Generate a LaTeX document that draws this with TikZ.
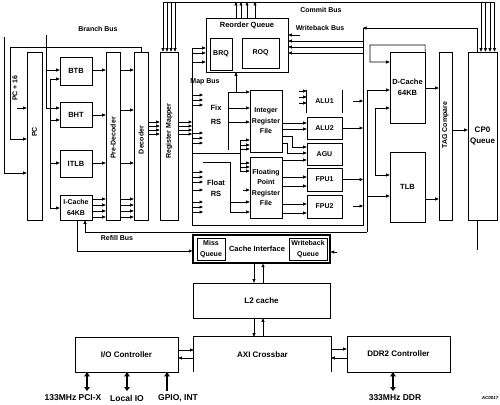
\documentclass[tikz,border=0pt]{standalone}
\usepackage{fontspec}
\setmainfont{Liberation Sans}
\usetikzlibrary{arrows.meta}
\newcommand\lbl{\fontsize{7}{10.5}\selectfont\bfseries}
\newcommand\lblbig{\fontsize{8}{10.5}\selectfont\bfseries}
\newcommand\lblmid{\fontsize{7.5}{10.5}\selectfont\bfseries}
\newcommand\mkbox[7][]{\node[box,#1,minimum width={(#4-#2)*1pt},minimum height={(#5-#3)*1pt}] (#6) at ({(#2+#4)/2},{(#3+#5)/2}) {#7};}
\newcommand\harrow[3]{\draw[arr] (#1 |- 0,#3) -- (#2 |- 0,#3);}
\begin{document}
\begin{tikzpicture}[x=1pt,y=-1pt,
  box/.style={draw, line width=0.6pt, inner sep=0pt, font=\lbl, align=center},
  ln/.style={line width=0.6pt},
  arr/.style={line width=0.6pt, -{Triangle[length=3.5pt,width=3pt]}},
  tag/.style={font=\lbl, inner sep=0pt, align=center},
  big/.style={line width=2.2pt, {Triangle[length=4pt,width=5.5pt]}-{Triangle[length=4pt,width=5.5pt]}},
  bigup/.style={line width=2.2pt, -{Triangle[length=4pt,width=5.5pt]}},
  btag/.style={font=\fontsize{8.5}{9}\selectfont\bfseries, inner sep=0pt}]
\useasboundingbox (0,0) rectangle (500,404);
\fill[white] (0,0) rectangle (500,404);

% ---------- boxes ----------
\mkbox{27}{52}{42}{220}{pc}{}
\mkbox[font=\lblmid]{60}{57}{92}{85}{btb}{BTB}
\mkbox[font=\lblmid]{60}{102}{92}{127}{bht}{BHT}
\mkbox[font=\lblmid]{60}{150}{92}{177}{itlb}{ITLB}
\mkbox{60}{195}{92}{220}{icache}{I-Cache\\64KB}
\mkbox{106}{52}{120}{220}{pred}{}
\mkbox{134}{52}{148}{220}{dec}{}
\mkbox{160}{52}{178}{220}{map}{}
\mkbox{206}{18}{288}{72}{roq}{}
\mkbox{210}{38}{232}{70}{brq}{BRQ}
\mkbox{242}{38}{279}{68}{rob}{ROQ}
\mkbox{250}{90}{282}{152}{irf}{Integer\\Register\\File}
\mkbox{250}{157}{282}{218}{frf}{Floating\\Point\\Register\\File}
\mkbox[draw=none]{307}{90}{342}{113}{alu1}{ALU1}
\draw[ln] (alu1.north west) -- (alu1.south west);
\draw[ln] (alu1.north east) -- (alu1.south east);
\mkbox{307}{117}{342}{139}{alu2}{ALU2}
\mkbox{307}{143}{342}{165}{agu}{AGU}
\mkbox{307}{168}{342}{191}{fpu1}{FPU1}
\mkbox{307}{195}{342}{218}{fpu2}{FPU2}
\mkbox[font=\lblmid]{390}{52}{425}{123}{dc}{D-Cache\\64KB}
\mkbox{439}{52}{452}{220}{tagc}{}
\mkbox[font=\lblmid]{390}{152}{425}{222}{tlb}{TLB}
\mkbox[font=\lblbig]{468}{52}{497}{220}{cp0}{CP0\\Queue}
\mkbox[line width=1.3pt]{193}{235}{330}{263}{cif}{}
\mkbox{197}{238}{225}{260}{missq}{Miss\\Queue}
\mkbox{289}{238}{327}{260}{wbq}{Writeback\\Queue}
\mkbox[font=\lblbig]{193}{283}{330}{318}{l2}{L2 cache}
\mkbox[draw=none,font=\lblbig]{194}{337}{331}{372}{axi}{AXI Crossbar}
\draw[ln] (axi.south west) -- (axi.north west) -- (axi.north east) -- (axi.south east);
\mkbox[font=\lblbig]{75}{337}{178}{372}{io}{I/O Controller}
\mkbox[font=\lblbig]{347}{336}{450}{372}{ddr}{DDR2 Controller}

% ---------- labels ----------
\node[tag,rotate=90] (pcl) at (pc.center |- 0,132) {PC};
\node[tag,rotate=90] (predl) at (pred.center |- 0,138) {Pre-Decoder};
\node[tag,rotate=90] (decl) at (dec.center |- 0,140) {Decoder};
\node[tag,rotate=90] (mapl) at (map.center |- 0,131) {Register Mapper};
\node[tag,rotate=90] (tagl) at (tagc.center |- 0,125) {TAG Compare};
\node[tag,rotate=90] (pc16) at (15,88) {PC + 16};
\node[tag] (lbb) at (98,29) {Branch Bus};
\node[tag] (lcb) at (321,10) {Commit Bus};
\node[tag] (lwb) at (320,28) {Writeback Bus};
\node[tag] (lmb) at (205,82) {Map Bus};
\node[tag] (lrb) at (117,238) {Refill Bus};
\node[tag,font=\lblmid] (rqt) at (247,26) {Reorder Queue};
\node[tag,font=\lblmid] (fixrs) at (216,115) {Fix\\[3pt]RS};
\node[tag,font=\lblmid] (flors) at (216,188.5) {Float\\RS};
\node[tag,font=\lblmid] (cifl) at (257,249) {Cache Interface};

% ---------- front end ----------
\coordinate (o1) at (4,37);
\draw[arr] (o1) |- (pc.west |- 0,173);
\coordinate (i1) at (10,47);
\draw[arr] (dec.north) |- (i1) |- (pc.west |- 0,139);
\coordinate (p16) at (17,108);
\draw[arr] (p16) -- (pc.west |- p16);
\coordinate (bb) at (46,35);
\draw[arr] (bb) |- (bht.west |- 0,108);
\draw[arr] (bb |- 0,70) -- (btb.west |- 0,70);
\coordinate (pb1) at (50,79);
\coordinate (pb2) at (50,208);
\draw[ln] (pb1) -- (pb2);
\draw[arr] (pb1) -- (btb.west |- pb1);
\draw[arr] (pb1 |- 0,120) -- (bht.west |- 0,120);
\draw[arr] (pb1 |- 0,163) -- (itlb.west |- 0,163);
\draw[arr] (pb2) -- (icache.west |- pb2);
\harrow{btb.east}{pred.west}{70}
\harrow{bht.east}{pred.west}{115}
\harrow{itlb.east}{pred.west}{163}
\foreach \y in {199,205,211,217} {\harrow{icache.east}{pred.west}{\y}}
\foreach \y in {70,110,163,199,205,211,217} {\harrow{pred.east}{dec.west}{\y}}
\foreach \y in {122,126,130,134} {\harrow{dec.east}{map.west}{\y}}

% ---------- map bus / reorder queue ----------
\coordinate (mb1) at (192,48);
\coordinate (mb2) at (192,225);
\draw[ln] (mb1) -- (mb2);
\foreach \y in {122,126,130,134} {\harrow{map.east}{mb1}{\y}}
\foreach \y in {48,53,62} {\harrow{mb1}{roq.west}{\y}}
\coordinate (cb1) at (163,2);
\coordinate (cb2) at (494.5,2);
\draw[ln] (cb1) -- (cb2);
\foreach \x in {163,167,171,175} {\draw[arr] (\x,0 |- cb1) -- (\x,0 |- map.north);}
\foreach \x in {481,485.5,490,494.5} {\draw[arr] (\x,0 |- cb1) -- (\x,0 |- cp0.north);}
\foreach \x in {236,241,247,255} {\draw[arr] (\x,0 |- roq.north) -- (\x,0 |- cb1);}

% ---------- reservation stations ----------
\coordinate (rsx) at (203,100);
\foreach \y in {95,100,105,133,138,143,172,177,182,190,202,207,212} {\harrow{mb1}{rsx}{\y}}
\coordinate (fx1) at (228,92);
\coordinate (fx2) at (228,150);
\draw[ln] (fx2) -- (fx1);
\draw[arr] (fx1) -- (irf.west |- fx1);
\harrow{fx1}{irf.west}{108}
\harrow{fx1}{irf.west}{122}
\coordinate (rqb) at (236,92);
\draw[arr] (rqb) -- (rqb |- roq.south);
\coordinate (bp1) at (240,140);
\coordinate (bp2) at (240,171);
\draw[ln] (mb1 |- 0,153) -- (bp1 |- 0,153);
\draw[ln] (bp1) -- (bp2);
\foreach \y in {140,145,149} {\harrow{bp1}{irf.west}{\y}}
\foreach \y in {163,167,171} {\harrow{bp1}{frf.west}{\y}}
\coordinate (fl1) at (203,162);
\coordinate (fl2) at (230,162);
\coordinate (fl3) at (230,212);
\draw[ln] (fl1) -- (fl2) -- (fl3);
\harrow{fl2}{frf.west}{202}
\draw[arr] (fl3) -- (frf.west |- fl3);
\coordinate (fst) at (243,190);
\draw[arr] (fst) -- (frf.west |- fst);

% ---------- execution ----------
\foreach \y in {91,97,103} {\draw[arr] (299,\y) -- (alu1.west |- 0,\y);}
\harrow{irf.east}{alu2.west}{123}
\harrow{irf.east}{alu2.west}{129}
\draw[arr] (irf.east |- 0,136) -- (292,136) -- (292,147) -- (agu.west |- 0,147);
\draw[arr] (irf.east |- 0,143) -- (287,143) -- (287,153) -- (agu.west |- 0,153);
\harrow{frf.east}{agu.west}{160}
\harrow{frf.east}{fpu1.west}{177}
\harrow{frf.east}{fpu1.west}{186}
\harrow{frf.east}{fpu2.west}{204}
\harrow{frf.east}{fpu2.west}{213}

% ---------- writeback bus ----------
\coordinate (wb1) at (363,28);
\coordinate (wb2) at (363,225);
\draw[ln] (mb2) -- (wb2) -- (wb1);
\draw[arr] (cp0.north -| 477,0) |- (wb1);
\foreach \y in {41,47,53} {\harrow{wb1}{roq.east}{\y}}
\coordinate (wst) at (300,35);
\draw[arr] (wst) -- (roq.east |- wst);
\draw[arr] (alu2.east) -- (wb1 |- alu2.east);
\draw[arr] (fpu1.east) -- (wb1 |- fpu1.east);
\coordinate (s1) at (353,101);
\coordinate (s2) at (353,206);
\draw[arr] (s1) -- (wb1 |- s1);
\draw[arr] (s2) -- (wb1 |- s2);

% ---------- memory side ----------
\coordinate (dl1) at (425,45);
\coordinate (dl2) at (370,45);
\draw[arr] (dc.north east) -- (dl1) -- (dl2) |- (dc.west |- 0,62);
\coordinate (rf2) at (367,232);
\coordinate (rf3) at (85,232);
\draw[arr] (rf2) |- (dc.west |- 0,90);
\harrow{rf2}{tlb.west}{196}
\draw[arr] (rf2) -- (rf3) -- (rf3 |- icache.south);
\coordinate (ad1) at (375,108);
\draw[arr] (ad1) -- (dc.west |- ad1);
\draw[arr] (ad1) |- (tlb.west |- 0,175);
\harrow{dc.east}{tagc.west}{88}
\harrow{tlb.east}{tagc.west}{199}
\harrow{tagc.east}{cp0.west}{130}
\coordinate (cpb) at (477,250);
\draw[ln] (cp0.south -| cpb) -- (cpb);
\coordinate (wbs) at (337,252);
\draw[arr] (wbs) -- (cif.east |- wbs);
\draw[arr] (icache.south -| 77,0) |- (cif.west |- 0,251);

% ---------- L2 / AXI ----------
\draw[arr] (254,0 |- cif.south) -- (254,0 |- l2.north);
\draw[arr] (263,0 |- l2.north) -- (263,0 |- cif.south);
\draw[arr] (254,0 |- l2.south) -- (254,0 |- axi.north);
\draw[arr] (263,0 |- axi.north) -- (263,0 |- l2.south);
\harrow{io.east}{axi.west}{350}
\harrow{axi.west}{io.east}{358}
\harrow{axi.east}{ddr.west}{349}
\harrow{ddr.west}{axi.east}{358}

% ---------- external interfaces ----------
\coordinate (e1) at (87,391);
\coordinate (e2) at (127,391);
\coordinate (e3) at (167,391);
\coordinate (e4) at (393,391);
\draw[big] (e1 |- io.south) -- (e1);
\draw[big] (e2 |- io.south) -- (e2);
\draw[bigup] (e3) -- (e3 |- io.south);
\draw[big] (e4 |- ddr.south) -- (e4);
\node[btag] (t1) at (73,398) {133MHz PCI-X};
\node[btag] (t2) at (127,398) {Local IO};
\node[btag] (t3) at (178,398) {GPIO, INT};
\node[btag] (t4) at (395,398) {333MHz DDR};
\node[font=\fontsize{4.5}{5}\selectfont\bfseries\itshape, inner sep=0pt] (fid) at (490,398) {AC0017};
\end{tikzpicture}
\end{document}
